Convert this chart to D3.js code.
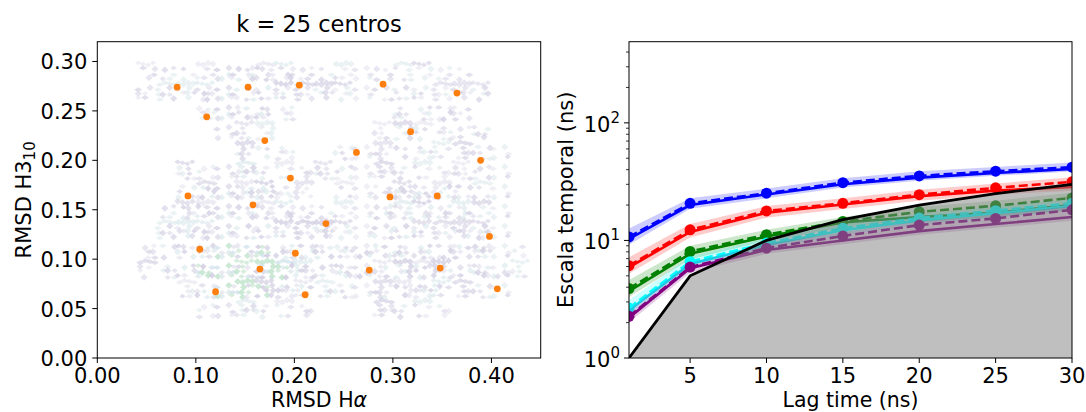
<!DOCTYPE html>
<html>
<head>
<meta charset="utf-8">
<script src="https://cdn.jsdelivr.net/npm/d3@7"></script>
<style>
body { margin: 0; background: #fff; }
svg text { font-family: "DejaVu Sans", sans-serif; fill: #000; }
</style>
</head>
<body>
<svg id="chart" width="1086" height="412"></svg>
<script>
// ---- left panel: cluster centers ----
var centerX = [0.081, 0.153, 0.205, 0.290, 0.365, 0.111, 0.318, 0.170, 0.263, 0.389,
               0.196, 0.092, 0.297, 0.345, 0.158, 0.232, 0.398, 0.104, 0.201, 0.165,
               0.276, 0.348, 0.120, 0.211, 0.406];
var centerY = [0.274, 0.274, 0.276, 0.277, 0.268, 0.244, 0.229, 0.220, 0.208, 0.200,
               0.182, 0.164, 0.163, 0.164, 0.155, 0.136, 0.123, 0.110, 0.106, 0.090,
               0.089, 0.091, 0.067, 0.064, 0.070];

// density of the background histogram, rows from y=0.30 down to y=0.04, cols from x=0.04 step 0.02
var densityRows = [
    "11112222111111111000",
    "11122222111111111100",
    "00012221000001121000",
    "00001110000011111100",
    "00000111001111111110",
    "00111211111111111110",
    "00122221101112222110",
    "01222222111122222110",
    "01222222221122222210",
    "11223332221222222211",
    "11233333222222222221",
    "00123332211122221110",
    "00011111100011110000"
];

var xTicksLeft = [0, 0.1, 0.2, 0.3, 0.4];
var yTicksLeft = [0, 0.05, 0.1, 0.15, 0.2, 0.25, 0.3];

// ---- right panel: implied timescales ----
var lags = [1, 5, 10, 15, 20, 25, 30];
var lagLine = [1, 5, 10, 15, 20, 25, 30];

var blueEst  = [10.7, 20.7, 25.2, 31.0, 35.4, 38.8, 42.0];
var blueMean = [10.3, 20.0, 24.6, 30.0, 34.2, 37.5, 40.5];
var blueLo   = [9.2, 18.6, 22.8, 28.2, 32.2, 35.5, 38.5];
var blueHi   = [12.6, 22.8, 27.6, 33.8, 38.8, 42.2, 46.0];

var redEst  = [6.1, 12.3, 17.8, 20.7, 24.5, 28.0, 31.5];
var redMean = [5.9, 11.8, 17.2, 20.2, 23.8, 26.5, 28.5];
var redLo   = [5.2, 10.6, 15.6, 18.5, 21.8, 24.5, 26.5];
var redHi   = [7.2, 13.8, 19.6, 22.8, 27.0, 30.5, 34.5];

var greenEst  = [3.9, 8.05, 11.2, 14.5, 17.5, 19.7, 23.0];
var greenMean = [3.7, 7.7, 10.8, 14.2, 15.8, 17.2, 20.0];
var greenLo   = [3.3, 6.9, 9.9, 12.8, 14.3, 15.8, 18.0];
var greenHi   = [4.6, 9.0, 12.3, 15.8, 19.2, 21.8, 25.5];

var cyanEst  = [2.66, 6.6, 9.5, 12.7, 15.5, 17.9, 20.7];
var cyanMean = [2.55, 6.3, 9.2, 12.2, 14.8, 17.0, 19.6];
var cyanLo   = [2.3, 5.7, 8.5, 11.2, 13.6, 15.6, 18.0];
var cyanHi   = [3.1, 7.3, 10.4, 13.8, 16.8, 19.4, 22.4];

var purpleEst  = [2.26, 5.93, 8.6, 10.9, 13.5, 15.4, 18.2];
var purpleMean = [2.2, 5.8, 8.3, 10.0, 12.0, 13.8, 15.8];
var purpleLo   = [2.0, 5.3, 7.7, 9.3, 11.2, 12.8, 14.7];
var purpleHi   = [2.6, 6.5, 9.3, 11.8, 14.5, 16.6, 19.6];

var xTicksRight = [5, 10, 15, 20, 25, 30];
var yMajorRight = [1, 10, 100];
var yMajorExp = ["0", "1", "2"];
var yMinorRight = [2, 3, 4, 5, 6, 7, 8, 9, 20, 30, 40, 50, 60, 70, 80, 90, 200, 300, 400];

var series = [
    {color: "blue",    est: blueEst,   mean: blueMean,   lo: blueLo,   hi: blueHi},
    {color: "red",     est: redEst,    mean: redMean,    lo: redLo,    hi: redHi},
    {color: "green",   est: greenEst,  mean: greenMean,  lo: greenLo,  hi: greenHi},
    {color: "cyan",    est: cyanEst,   mean: cyanMean,   lo: cyanLo,   hi: cyanHi},
    {color: "purple",  est: purpleEst, mean: purpleMean, lo: purpleLo, hi: purpleHi}
];

var svg = d3.select("#chart");
var fontSize = 21;
var tickBase = 25;     // tick label baseline below the axis
var labelBase = 407;   // x axis title baseline

// ===================== left panel =====================
var L = {left: 97.3, right: 540.7, top: 41.7, bottom: 358};
var xL = d3.scaleLinear().domain([0, 0.45]).range([L.left, L.right]);
var yL = d3.scaleLinear().domain([0, 0.32]).range([L.bottom, L.top]);

var left = svg.append("g");

// background density, drawn as small speckled diamonds
var cell = 0.02, densLeft = 0.04, densTop = 0.30;
var shades = ["#e6e4ef", "#d8d5e6", "#cfcbe0", "#dde9ec"];
var greens = ["#cfe9d6", "#bfe3cc", "#d4e4ee"];
var dens = left.append("g");
densityRows.forEach(function (row, r) {
    row.split("").forEach(function (ch, c) {
        var lev = +ch;
        if (!lev) return;
        var x0 = densLeft + c * cell, yTop = densTop - r * cell;
        for (var sx = 0; sx < 4; sx++) {
            for (var sy = 0; sy < 4; sy++) {
                var h = (sx * 7 + sy * 13 + c * 5 + r * 3 + sx * sy * 3 + c * r + sy * c) % 7;
                if (h >= lev + 2) continue;
                var cx = xL(x0 + (sx + 0.5) * cell / 4) + ((h + sy) % 3 - 1);
                var cy = yL(yTop - (sy + 0.5) * cell / 4) + ((h + sx) % 3 - 1);
                var hw = 3.2 + (h % 3) * 0.4, hh = 2.4 + (h % 2);
                var col = lev === 3 && h < 3 ? greens[h] : shades[(h + c) % 4];
                dens.append("path")
                    .attr("d", "M" + cx + "," + (cy - hh) + "L" + (cx + hw) + "," + cy +
                        "L" + cx + "," + (cy + hh) + "L" + (cx - hw) + "," + cy + "Z")
                    .attr("fill", col)
                    .attr("fill-opacity", 0.5 + 0.1 * lev);
            }
        }
    });
});

left.selectAll("circle.center")
    .data(centerX).enter()
    .append("circle")
    .attr("class", "center")
    .attr("cx", function (d) { return xL(d); })
    .attr("cy", function (d, i) { return yL(centerY[i]); })
    .attr("r", 3.4)
    .attr("fill", "#ff7f0e");

left.append("rect")
    .attr("x", L.left).attr("y", L.top)
    .attr("width", L.right - L.left).attr("height", L.bottom - L.top)
    .attr("fill", "none").attr("stroke", "#000").attr("stroke-width", 1);

xTicksLeft.forEach(function (t) {
    left.append("line")
        .attr("x1", xL(t)).attr("x2", xL(t))
        .attr("y1", L.bottom).attr("y2", L.bottom + 5)
        .attr("stroke", "#000");
    left.append("text")
        .attr("x", xL(t)).attr("y", L.bottom + tickBase)
        .attr("text-anchor", "middle")
        .attr("font-size", fontSize)
        .text(d3.format(".2f")(t));
});
yTicksLeft.forEach(function (t) {
    left.append("line")
        .attr("x1", L.left - 5).attr("x2", L.left)
        .attr("y1", yL(t)).attr("y2", yL(t))
        .attr("stroke", "#000");
    left.append("text")
        .attr("x", L.left - 10).attr("y", yL(t) + 8)
        .attr("text-anchor", "end")
        .attr("font-size", fontSize)
        .text(d3.format(".2f")(t));
});

left.append("text")
    .attr("x", (L.left + L.right) / 2).attr("y", 32)
    .attr("text-anchor", "middle")
    .attr("font-size", 22.5)
    .text("k = 25 centros");

var xlab = left.append("text")
    .attr("x", (L.left + L.right) / 2).attr("y", labelBase)
    .attr("text-anchor", "middle")
    .attr("font-size", 20.5);
xlab.append("tspan").text("RMSD H");
xlab.append("tspan").attr("font-style", "italic").text("α");

var ylab = left.append("text")
    .attr("transform", "translate(31," + ((L.top + L.bottom) / 2) + ") rotate(-90)")
    .attr("text-anchor", "middle")
    .attr("font-size", fontSize);
ylab.append("tspan").text("RMSD H3");
ylab.append("tspan").attr("font-size", 15).attr("dy", 4).text("10");

// ===================== right panel =====================
var R = {left: 629, right: 1072, top: 41.7, bottom: 358};
var xR = d3.scaleLinear().domain([1, 30]).range([R.left, R.right]);
var yR = d3.scaleLog().domain([1, 490]).range([R.bottom, R.top]);

var right = svg.append("g");
svg.append("defs").append("clipPath").attr("id", "clipR")
    .append("rect")
    .attr("x", R.left).attr("y", R.top)
    .attr("width", R.right - R.left).attr("height", R.bottom - R.top);

var plot = right.append("g").attr("clip-path", "url(#clipR)");

var band = d3.area()
    .x(function (d, i) { return xR(lags[i]); })
    .y0(function (d) { return yR(d[0]); })
    .y1(function (d) { return yR(d[1]); });
var line = d3.line()
    .x(function (d, i) { return xR(lags[i]); })
    .y(function (d) { return yR(d); });

series.forEach(function (s) {
    plot.append("path")
        .attr("d", band(s.lo.map(function (v, i) { return [v, s.hi[i]]; })))
        .attr("fill", s.color).attr("fill-opacity", 0.2);
    plot.append("path")
        .attr("d", line(s.mean))
        .attr("fill", "none").attr("stroke", s.color).attr("stroke-width", 2.6);
    plot.append("path")
        .attr("d", line(s.est))
        .attr("fill", "none").attr("stroke", s.color).attr("stroke-width", 2.6)
        .attr("stroke-dasharray", "9,4");
    plot.selectAll(null)
        .data(s.est).enter()
        .append("circle")
        .attr("cx", function (d, i) { return xR(lags[i]); })
        .attr("cy", function (d) { return yR(d); })
        .attr("r", 5.5)
        .attr("fill", s.color);
});

// grey region below the lag time
plot.append("path")
    .attr("d", d3.area()
        .x(function (d, i) { return xR(lags[i]); })
        .y0(yR(1))
        .y1(function (d) { return yR(d); })(lagLine))
    .attr("fill", "#808080").attr("fill-opacity", 0.5);
plot.append("path")
    .attr("d", line(lagLine))
    .attr("fill", "none").attr("stroke", "#000").attr("stroke-width", 2.8);

right.append("rect")
    .attr("x", R.left).attr("y", R.top)
    .attr("width", R.right - R.left).attr("height", R.bottom - R.top)
    .attr("fill", "none").attr("stroke", "#000").attr("stroke-width", 1);

xTicksRight.forEach(function (t) {
    right.append("line")
        .attr("x1", xR(t)).attr("x2", xR(t))
        .attr("y1", R.bottom).attr("y2", R.bottom + 5)
        .attr("stroke", "#000");
    right.append("text")
        .attr("x", xR(t)).attr("y", R.bottom + tickBase)
        .attr("text-anchor", "middle")
        .attr("font-size", fontSize)
        .text(t);
});
yMinorRight.forEach(function (t) {
    right.append("line")
        .attr("x1", R.left - 3).attr("x2", R.left)
        .attr("y1", yR(t)).attr("y2", yR(t))
        .attr("stroke", "#000").attr("stroke-width", 0.8);
});
yMajorRight.forEach(function (t, i) {
    right.append("line")
        .attr("x1", R.left - 5).attr("x2", R.left)
        .attr("y1", yR(t)).attr("y2", yR(t))
        .attr("stroke", "#000");
    var lab = right.append("text")
        .attr("x", R.left - 9).attr("y", yR(t) + 9)
        .attr("text-anchor", "end")
        .attr("font-size", fontSize);
    lab.append("tspan").text("10");
    lab.append("tspan").attr("font-size", 15).attr("dy", -9).text(yMajorExp[i]);
});

right.append("text")
    .attr("x", (R.left + R.right) / 2).attr("y", labelBase)
    .attr("text-anchor", "middle")
    .attr("font-size", 20.5)
    .text("Lag time (ns)");

right.append("text")
    .attr("transform", "translate(573," + ((R.top + R.bottom) / 2) + ") rotate(-90)")
    .attr("text-anchor", "middle")
    .attr("font-size", fontSize)
    .text("Escala temporal (ns)");
</script>
</body>
</html>
